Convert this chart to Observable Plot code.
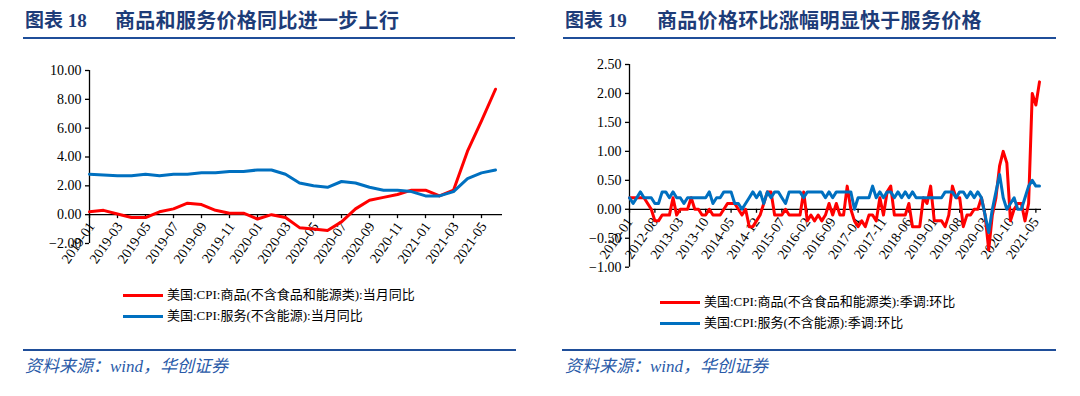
<!DOCTYPE html>
<html><head><meta charset="utf-8">
<script src="https://cdn.jsdelivr.net/npm/d3@7"></script>
<script src="https://cdn.jsdelivr.net/npm/@observablehq/plot@0.6"></script>
<style>
body{margin:0;background:#fff;}
#page{position:relative;width:1080px;height:396px;overflow:hidden;background:#fff;font-family:"Liberation Serif","Noto Sans CJK SC",serif;}
.title{position:absolute;top:8px;line-height:26px;font-family:"Liberation Serif","Noto Sans CJK SC",serif;font-weight:700;font-size:19px;color:#1d3c78;white-space:nowrap;}
.title.body{font-size:20px;letter-spacing:0.3px;}
.rule{position:absolute;height:2px;background:#1f4e99;}
.legend{position:absolute;font-size:13px;line-height:16px;white-space:nowrap;color:#000;}
.legend .sw{display:inline-block;width:40px;height:3px;vertical-align:middle;margin-right:4px;position:relative;top:-1px;}
.source{position:absolute;font-style:italic;font-size:17px;line-height:18px;color:#2a5aa8;white-space:nowrap;font-family:"Liberation Serif","Noto Sans CJK SC",serif;}
.chart{position:absolute;top:45px;}
</style></head>
<body>
<div id="page">
  <div class="title" style="left:25px">图表 18</div>
  <div class="title body" style="left:115px">商品和服务价格同比进一步上行</div>
  <div class="rule" style="left:23px;width:492px;top:37px"></div>
  <div class="title" style="left:565px">图表 19</div>
  <div class="title body" style="left:657px">商品价格环比涨幅明显快于服务价格</div>
  <div class="rule" style="left:563px;width:493px;top:37px"></div>
  <div class="chart" id="left" style="left:0"></div>
  <div class="chart" id="right" style="left:540px"></div>
  <div class="legend" style="left:123px;top:287px"><span class="sw" style="background:#ff0000"></span><span id="lg1"></span></div>
  <div class="legend" style="left:123px;top:308px"><span class="sw" style="background:#0070c0"></span><span id="lg2"></span></div>
  <div class="legend" style="left:660px;top:294px"><span class="sw" style="background:#ff0000"></span><span id="lg3"></span></div>
  <div class="legend" style="left:660px;top:315px"><span class="sw" style="background:#0070c0"></span><span id="lg4"></span></div>
  <div class="rule" style="left:23px;width:493px;top:349px"></div>
  <div class="rule" style="left:562px;width:494px;top:349px"></div>
  <div class="source" style="left:25px;top:358px">资料来源：wind，华创证券</div>
  <div class="source" style="left:565px;top:358px">资料来源：wind，华创证券</div>
</div>
<script>
// ---------- data: left chart (YoY, 2019-01 .. 2021-06) ----------
const leftMonths = d3.utcMonth.range(new Date(Date.UTC(2019,0,1)), new Date(Date.UTC(2021,6,1))).map(d3.utcFormat("%Y-%m"));
const leftTicks = ["2019-01","2019-03","2019-05","2019-07","2019-09","2019-11","2020-01","2020-03","2020-05","2020-07","2020-09","2020-11","2021-01","2021-03","2021-05"];
const leftYTicks = [-2,0,2,4,6,8,10];
const goodsYoY = [0.2,0.3,0.05,-0.2,-0.2,0.2,0.4,0.8,0.7,0.3,0.1,0.1,-0.3,0.0,-0.2,-0.9,-1.0,-1.1,-0.5,0.4,1.0,1.2,1.4,1.7,1.7,1.3,1.7,4.4,6.5,8.7];
const servicesYoY = [2.8,2.75,2.7,2.7,2.8,2.7,2.8,2.8,2.9,2.9,3.0,3.0,3.1,3.1,2.8,2.2,2.0,1.9,2.3,2.2,1.9,1.7,1.7,1.6,1.3,1.3,1.6,2.5,2.9,3.1];
const leftNames = ["美国:CPI:商品(不含食品和能源类):当月同比","美国:CPI:服务(不含能源):当月同比"];

// ---------- data: right chart (MoM SA, 2012-01 .. 2021-06) ----------
const rightMonths = d3.utcMonth.range(new Date(Date.UTC(2012,0,1)), new Date(Date.UTC(2021,6,1))).map(d3.utcFormat("%Y-%m"));
const rightTicks = ["2012-01","2012-08","2013-03","2013-10","2014-05","2014-12","2015-07","2016-02","2016-09","2017-04","2017-11","2018-06","2019-01","2019-08","2020-03","2020-10","2021-05"];
const rightYTicks = [-1,-0.5,0,0.5,1,1.5,2,2.5];
const goodsMoM = [
 0.2,0.2,0.2,0.2,0.2,0.1,0.0,-0.2,-0.2,-0.1,
 -0.1,-0.1,0.2,-0.1,0.0,0.0,0.0,0.2,0.0,0.0,
 -0.1,-0.1,0.0,-0.1,-0.1,-0.1,0.0,0.1,0.1,0.1,
 0.0,-0.1,0.0,-0.3,-0.3,-0.2,-0.1,0.1,0.3,0.3,
 -0.1,-0.1,-0.1,0.0,-0.1,-0.1,-0.1,-0.1,0.3,-0.2,
 -0.1,-0.2,-0.1,-0.2,-0.1,0.1,-0.1,0.1,-0.1,-0.1,
 0.4,0.0,-0.2,-0.3,-0.2,-0.3,-0.1,-0.1,-0.2,0.2,
 -0.1,0.3,0.4,-0.1,-0.1,-0.1,-0.1,0.1,-0.3,-0.3,
 -0.3,0.2,0.1,0.4,-0.2,-0.2,-0.2,-0.3,-0.1,0.4,
 0.2,0.2,-0.3,-0.1,-0.1,0.0,0.0,0.2,-0.1,-0.7,
 -0.1,0.2,0.75,1.0,0.8,-0.2,0.0,0.1,0.1,-0.2,
 0.1,2.0,1.8,2.2];
const servicesMoM = [
 0.2,0.1,0.2,0.3,0.2,0.2,0.2,0.1,0.1,0.3,
 0.3,0.2,0.3,0.2,0.2,0.1,0.2,0.2,0.2,0.2,
 0.2,0.2,0.3,0.1,0.2,0.2,0.3,0.3,0.3,0.1,
 0.1,0.0,0.1,0.2,0.3,0.2,0.3,0.1,0.3,0.2,
 0.3,0.3,0.2,0.1,0.3,0.3,0.3,0.3,0.2,0.3,
 0.3,0.3,0.3,0.3,0.2,0.3,0.2,0.3,0.3,0.3,
 0.3,0.3,0.0,0.2,0.2,0.2,0.2,0.4,0.2,0.3,
 0.2,0.3,0.3,0.2,0.3,0.2,0.3,0.2,0.3,0.2,
 0.2,0.2,0.2,0.2,0.2,0.2,0.2,0.3,0.3,0.3,
 0.2,0.3,0.3,0.2,0.3,0.2,0.3,0.2,-0.1,-0.4,
 0.0,0.3,0.6,0.2,0.0,0.1,0.2,0.0,0.0,0.2,
 0.4,0.5,0.4,0.4];
const rightNames = ["美国:CPI:商品(不含食品和能源类):季调:环比","美国:CPI:服务(不含能源):季调:环比"];

const colors = ["#ff0000", "#0070c0"];

document.getElementById("lg1").textContent = leftNames[0];
document.getElementById("lg2").textContent = leftNames[1];
document.getElementById("lg3").textContent = rightNames[0];
document.getElementById("lg4").textContent = rightNames[1];

function makeChart({months, seriesVals, yDomain, yTicks, xTicks, xRange, marginTop, marginBottom, marginRight, labelDx, labelDy}) {
  const lineMarks = seriesVals.map((vals, k) =>
    Plot.line(vals.map((v, i) => ({month: months[i], value: v})), {x: "month", y: "value", stroke: colors[k], strokeWidth: 3, strokeLinejoin: "round"}));
  return Plot.plot({
    width: 540, height: 240, marginTop, marginBottom, marginLeft: 89, marginRight,
    style: {fontFamily: '"Liberation Serif","Times New Roman",serif', fontSize: "14px", color: "#000", background: "transparent", overflow: "visible"},
    x: {type: "point", domain: months, range: xRange, padding: 0, axis: null},
    y: {domain: yDomain, label: null, axis: null},
    marks: [
      Plot.ruleY([0], {stroke: "#000", strokeWidth: 1.3}),
      Plot.ruleX(xTicks, {x: d => d, y1: 0, y2: 0, insetBottom: -4, stroke: "#000", strokeWidth: 1.3}),
      Plot.ruleX([months[0]], {x: d => d, y1: yDomain[0], y2: yDomain[1], stroke: "#000", strokeWidth: 1.3}),
      Plot.axisY({ticks: yTicks, tickFormat: d3.format(".2f"), tickSize: 4, tickPadding: 4, label: null, strokeWidth: 1.3}),
      Plot.text(xTicks, {x: d => d, y: 0, text: d => d, rotate: -55, textAnchor: "end", dx: labelDx, dy: labelDy, fill: "#000"}),
      ...lineMarks
    ]
  });
}

document.getElementById("left").appendChild(makeChart({
  months: leftMonths, seriesVals: [goodsYoY, servicesYoY], yDomain: [-2, 10], yTicks: leftYTicks,
  xTicks: leftTicks, xRange: [89, 495], marginTop: 25, marginBottom: 42, marginRight: 38, labelDx: 2, labelDy: 9
}));
document.getElementById("right").appendChild(makeChart({
  months: rightMonths, seriesVals: [goodsMoM, servicesMoM], yDomain: [-1, 2.5], yTicks: rightYTicks,
  xTicks: rightTicks, xRange: [89, 499], marginTop: 19, marginBottom: 18.3, marginRight: 39, labelDx: 0, labelDy: 10
}));
</script>
</body></html>
